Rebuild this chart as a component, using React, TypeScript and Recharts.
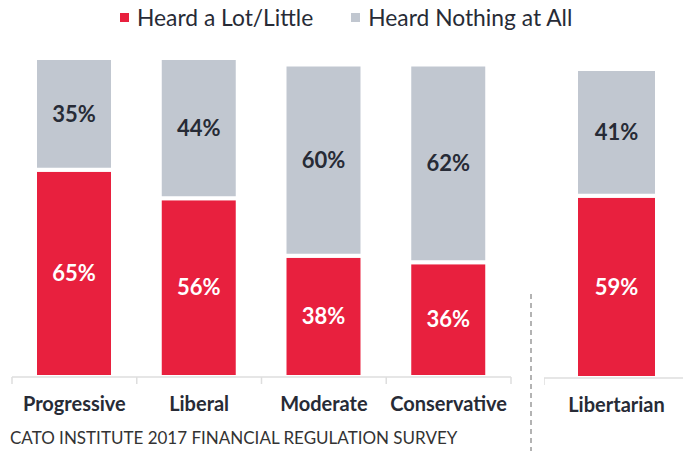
import React from "react";
import { BarChart, Bar, XAxis, YAxis, LabelList } from "recharts";

const categories = ["Progressive", "Liberal", "Moderate", "Conservative"];
const heardSome = [65, 56, 38, 36];
const heardNothing = [35, 44, 60, 62];

const libCategories = ["Libertarian"];
const libHeardSome = [59];
const libHeardNothing = [41];

const seriesNames = ["Heard a Lot/Little", "Heard Nothing at All"];
const footer = "CATO INSTITUTE 2017 FINANCIAL REGULATION SURVEY";

const RED = "#E8203E";
const GRAY = "#C1C7D0";
const DARK = "#272B36";
const AXIS = "#DEDEDE";
const FONT = "Lato, 'Open Sans', sans-serif";

const mainData = categories.map((name, i) => ({
  name,
  some: heardSome[i],
  nothing: heardNothing[i],
}));
const libData = libCategories.map((name, i) => ({
  name,
  some: libHeardSome[i],
  nothing: libHeardNothing[i],
}));

const pct = (v: any) => `${v}%`;

function CatTick(props: any) {
  const { x, y, payload, index, visibleTicksCount } = props;
  const half = payload?.offset ?? 0;
  const last = index === visibleTicksCount - 1;
  return (
    <g>
      <line x1={x - half} x2={x - half} y1={y} y2={y + 7} stroke={AXIS} strokeWidth={1.5} />
      {last && (
        <line x1={x + half} x2={x + half} y1={y} y2={y + 7} stroke={AXIS} strokeWidth={1.5} />
      )}
      <text
        x={x}
        y={y + 34}
        textAnchor="middle"
        fill={DARK}
        fontSize={20}
        fontWeight={700}
        fontFamily={FONT}
      >
        {payload.value}
      </text>
    </g>
  );
}

function Stack({ barSize }: { barSize: number }) {
  return (
    <>
      <YAxis hide domain={[0, 100]} />
      <Bar
        dataKey="some"
        name={seriesNames[0]}
        stackId="a"
        fill={RED}
        stroke="#fff"
        strokeWidth={4}
        barSize={barSize}
        isAnimationActive={false}
      >
        <LabelList
          dataKey="some"
          position="center"
          formatter={pct}
          fill="#fff"
          fontSize={22}
          fontWeight={700}
          fontFamily={FONT}
        />
      </Bar>
      <Bar
        dataKey="nothing"
        name={seriesNames[1]}
        stackId="a"
        fill={GRAY}
        stroke="#fff"
        strokeWidth={4}
        barSize={barSize}
        isAnimationActive={false}
      >
        <LabelList
          dataKey="nothing"
          position="center"
          formatter={pct}
          fill={DARK}
          fontSize={22}
          fontWeight={700}
          fontFamily={FONT}
        />
      </Bar>
      <XAxis
        dataKey="name"
        height={30}
        axisLine={{ stroke: AXIS, strokeWidth: 1.5 }}
        tickLine={false}
        tickSize={0}
        tickMargin={0}
        interval={0}
        tick={<CatTick />}
      />
    </>
  );
}

export default function App() {
  return (
    <div
      style={{
        position: "absolute",
        left: 0,
        top: 0,
        width: 683,
        height: 451,
        overflow: "hidden",
        background: "#fff",
        fontFamily: FONT,
      }}
    >
      <div
        style={{
          position: "absolute",
          left: 120,
          top: 3,
          display: "flex",
          alignItems: "center",
          fontSize: 22.8,
          color: DARK,
          whiteSpace: "nowrap",
        }}
      >
        {seriesNames.map((n, i) => (
          <div key={n} style={{ display: "flex", alignItems: "center", marginRight: 38 }}>
            <span
              style={{
                width: 9,
                height: 9,
                background: i === 0 ? RED : GRAY,
                marginRight: 8,
                display: "inline-block",
              }}
            />
            <span>{n}</span>
          </div>
        ))}
      </div>

      <div style={{ position: "absolute", left: 0, top: 0 }}>
        <BarChart
          width={520}
          height={451}
          data={mainData}
          margin={{ top: 58, left: 12, right: 9, bottom: 44 }}
        >
          {Stack({ barSize: 78 })}
        </BarChart>
      </div>

      <div style={{ position: "absolute", left: 544, top: 0 }}>
        <BarChart
          width={145}
          height={451}
          data={libData}
          margin={{ top: 69, left: 0, right: 0, bottom: 43 }}
        >
          {Stack({ barSize: 81 })}
        </BarChart>
      </div>

      <svg
        style={{ position: "absolute", left: 529, top: 294 }}
        width={4}
        height={157}
      >
        <line x1={2} x2={2} y1={0} y2={157} stroke="#9A9A9A" strokeWidth={1.5} strokeDasharray="5 4" />
      </svg>

      <div
        style={{
          position: "absolute",
          left: 10,
          top: 427,
          fontSize: 17,
          color: "#333",
          whiteSpace: "nowrap",
        }}
      >
        {footer}
      </div>
    </div>
  );
}
